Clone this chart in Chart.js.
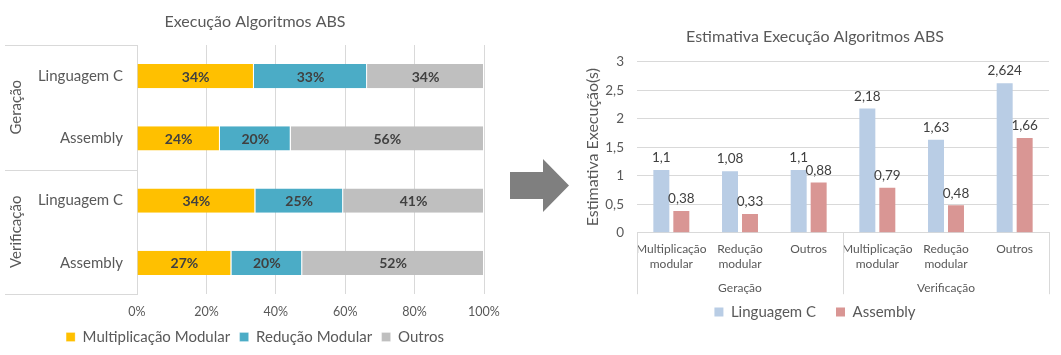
<!DOCTYPE html>
<html>
<head>
<meta charset="utf-8">
<script src="https://cdn.jsdelivr.net/npm/chart.js@4/dist/chart.umd.min.js"></script>
<style>
html,body{margin:0;padding:0;background:#fff;width:1061px;height:355px;overflow:hidden;}
#arrow{position:absolute;left:0;top:0;}
#left{position:absolute;left:0;top:0;width:510px;height:355px;}
#right{position:absolute;left:560px;top:0;width:501px;height:355px;}
</style>
</head>
<body>
<svg id="arrow" width="1061" height="355"><polygon points="510,172 543,172 543,159 569,185.5 543,212 543,199 510,199" fill="#7F7F7F"/></svg>
<div id="left"><canvas id="c1"></canvas></div>
<div id="right"><canvas id="c2"></canvas></div>
<script>
const FONT = 'Lato, "Open Sans", sans-serif';
const TEXT = '#595959';
const LABEL = '#404040';
const GRID = '#D9D9D9';

// ---- left chart data ----
const leftTitle = 'Execução Algoritmos ABS';
const leftCategories = ['Linguagem C', 'Assembly', 'Linguagem C', 'Assembly'];
const leftGroups = ['Geração', 'Verificação'];
const leftGroupSizes = [2, 2];
const seriesNames = ['Multiplicação Modular', 'Redução Modular', 'Outros'];
const multiplicacaoModular = [33.7, 23.9, 34.1, 27.2];
const reducaoModular = [32.6, 20.4, 25.3, 20.4];
const outros = [33.7, 55.7, 40.6, 52.4];
const percentTicks = [0, 20, 40, 60, 80, 100];

// ---- right chart data ----
const rightTitle = 'Estimativa Execução Algoritmos ABS';
const rightCategories = [['Multiplicação', 'modular'], ['Redução', 'modular'], ['Outros'], ['Multiplicação', 'modular'], ['Redução', 'modular'], ['Outros']];
const rightGroups = ['Geração', 'Verificação'];
const rightGroupSizes = [3, 3];
const rightSeriesNames = ['Linguagem C', 'Assembly'];
const linguagemC = [1.1, 1.08, 1.1, 2.18, 1.63, 2.624];
const assembly = [0.38, 0.33, 0.88, 0.79, 0.48, 1.66];
const secondsTicks = [0, 0.5, 1, 1.5, 2, 2.5, 3];
const yAxisTitle = 'Estimativa Execução(s)';

const comma = v => String(v).replace('.', ',');

// ---- plugins ----
const leftDecor = {
  id: 'leftDecor',
  afterDraw(chart) {
    const {ctx, chartArea: a, scales: {y}} = chart;
    ctx.save();
    ctx.strokeStyle = GRID; ctx.lineWidth = 1;
    const bounds = [a.top];
    let idx = 0;
    leftGroupSizes.forEach(n => {
      idx += n;
      bounds.push(idx < leftCategories.length ? (y.getPixelForValue(idx - 1) + y.getPixelForValue(idx)) / 2 : a.bottom);
    });
    bounds.forEach(b => {
      const yy = Math.round(b) + 0.5;
      ctx.beginPath(); ctx.moveTo(5, yy); ctx.lineTo(a.left, yy); ctx.stroke();
    });
    ctx.fillStyle = TEXT; ctx.font = '15px ' + FONT;
    ctx.textAlign = 'center'; ctx.textBaseline = 'middle';
    let s = 0;
    leftGroups.forEach((g, i) => {
      const c = (y.getPixelForValue(s) + y.getPixelForValue(s + leftGroupSizes[i] - 1)) / 2;
      ctx.save(); ctx.translate(16, c); ctx.rotate(-Math.PI / 2); ctx.fillText(g, 0, 0); ctx.restore();
      s += leftGroupSizes[i];
    });
    ctx.restore();
  }
};

const stackLabels = {
  id: 'stackLabels',
  afterDatasetsDraw(chart) {
    const ctx = chart.ctx;
    ctx.save();
    ctx.fillStyle = LABEL; ctx.font = 'bold 14px ' + FONT;
    ctx.textAlign = 'center'; ctx.textBaseline = 'middle';
    chart.data.datasets.forEach((ds, i) => {
      chart.getDatasetMeta(i).data.forEach((bar, j) => {
        ctx.fillText(Math.round(ds.data[j]) + '%', (bar.x + bar.base) / 2, bar.y + 1);
      });
    });
    ctx.restore();
  }
};

const rightDecor = {
  id: 'rightDecor',
  afterDraw(chart) {
    const {ctx, chartArea: a, scales: {x}} = chart;
    const half = (x.getPixelForValue(1) - x.getPixelForValue(0)) / 2;
    const bottom = a.bottom + 61.5;
    ctx.save();
    ctx.strokeStyle = GRID; ctx.lineWidth = 1;
    const seps = [x.getPixelForValue(0) - half];
    let idx = 0;
    rightGroupSizes.forEach(n => { idx += n; seps.push(x.getPixelForValue(idx - 1) + half); });
    seps.forEach(px => {
      const xx = Math.round(px) + 0.5;
      ctx.beginPath(); ctx.moveTo(xx, a.bottom); ctx.lineTo(xx, bottom); ctx.stroke();
    });
    ctx.fillStyle = TEXT; ctx.font = '12px ' + FONT;
    ctx.textAlign = 'center'; ctx.textBaseline = 'middle';
    let s = 0;
    rightGroups.forEach((g, i) => {
      const c = (x.getPixelForValue(s) + x.getPixelForValue(s + rightGroupSizes[i] - 1)) / 2;
      ctx.fillText(g, c, a.bottom + 55.5);
      s += rightGroupSizes[i];
    });
    ctx.restore();
  }
};

const valueLabels = {
  id: 'valueLabels',
  afterDatasetsDraw(chart) {
    const ctx = chart.ctx;
    ctx.save();
    ctx.fillStyle = LABEL; ctx.font = '13.5px ' + FONT;
    ctx.textAlign = 'center'; ctx.textBaseline = 'middle';
    chart.data.datasets.forEach((ds, i) => {
      chart.getDatasetMeta(i).data.forEach((bar, j) => {
        ctx.fillText(comma(ds.data[j]), bar.x, bar.y - 12);
      });
    });
    ctx.restore();
  }
};

// ---- left chart ----
new Chart(document.getElementById('c1'), {
  type: 'bar',
  data: {
    labels: leftCategories,
    datasets: [
      {label: seriesNames[0], data: multiplicacaoModular, backgroundColor: '#FFC000'},
      {label: seriesNames[1], data: reducaoModular, backgroundColor: '#4BACC6'},
      {label: seriesNames[2], data: outros, backgroundColor: '#BFBFBF'}
    ].map(d => Object.assign(d, {borderColor: '#FFFFFF', borderWidth: {top: 0, bottom: 0, left: 0, right: 1}, borderSkipped: false, categoryPercentage: 0.4, barPercentage: 0.97}))
  },
  options: {
    indexAxis: 'y',
    responsive: true, maintainAspectRatio: false, animation: false,
    layout: {padding: {left: 26, right: 26, top: 0, bottom: 0.5}},
    plugins: {
      title: {display: true, text: leftTitle, color: TEXT, font: {family: FONT, size: 16, weight: 'normal'}, padding: {top: 12.5, bottom: 13.3}},
      legend: {position: 'bottom', labels: {boxWidth: 9, boxHeight: 9, padding: 9.5, color: TEXT, font: {family: FONT, size: 15}}},
      tooltip: {enabled: false}
    },
    scales: {
      x: {
        stacked: true, min: 0, max: 100,
        afterBuildTicks: s => { s.ticks = percentTicks.map(v => ({value: v})); },
        ticks: {callback: v => v + '%', color: TEXT, font: {family: FONT, size: 12.5}, padding: 10},
        grid: {color: GRID, drawTicks: false, tickLength: 0},
        border: {display: false},
        afterFit: s => { s.height = 26; }
      },
      y: {
        stacked: true,
        grid: {display: false, drawTicks: false, tickLength: 0},
        border: {display: true, color: GRID},
        ticks: {color: TEXT, font: {family: FONT, size: 15}, padding: 14},
        afterFit: s => { s.width = 111; }
      }
    }
  },
  plugins: [leftDecor, stackLabels]
});

// ---- right chart ----
new Chart(document.getElementById('c2'), {
  type: 'bar',
  data: {
    labels: rightCategories,
    datasets: [
      {label: rightSeriesNames[0], data: linguagemC, backgroundColor: '#B9CDE5'},
      {label: rightSeriesNames[1], data: assembly, backgroundColor: '#D99694'}
    ].map(d => Object.assign(d, {categoryPercentage: 0.582, barPercentage: 0.8}))
  },
  options: {
    responsive: true, maintainAspectRatio: false, animation: false,
    layout: {padding: {left: 21, right: 12, top: 0, bottom: 25.5}},
    plugins: {
      title: {display: true, text: rightTitle, color: TEXT, font: {family: FONT, size: 16, weight: 'normal'}, padding: {top: 27, bottom: 15.5}},
      legend: {position: 'bottom', labels: {boxWidth: 9, boxHeight: 9, padding: 20, color: TEXT, font: {family: FONT, size: 15}}},
      tooltip: {enabled: false}
    },
    scales: {
      x: {
        grid: {display: false, drawTicks: false, tickLength: 0},
        border: {display: true, color: GRID},
        ticks: {color: TEXT, font: {family: FONT, size: 12, lineHeight: 1.25}, padding: 9, maxRotation: 0, autoSkip: false},
        afterFit: s => { s.height = 51.8; }
      },
      y: {
        min: 0, max: 3,
        afterBuildTicks: s => { s.ticks = secondsTicks.map(v => ({value: v})); },
        ticks: {callback: v => comma(v), color: TEXT, font: {family: FONT, size: 13.5}, padding: 13},
        grid: {color: GRID, drawTicks: false, tickLength: 0},
        border: {display: false},
        title: {display: true, text: yAxisTitle, color: TEXT, font: {family: FONT, size: 16}, padding: {top: 2.5, bottom: 0}},
        afterFit: s => { s.width = 56; }
      }
    }
  },
  plugins: [rightDecor, valueLabels]
});
</script>
</body>
</html>
